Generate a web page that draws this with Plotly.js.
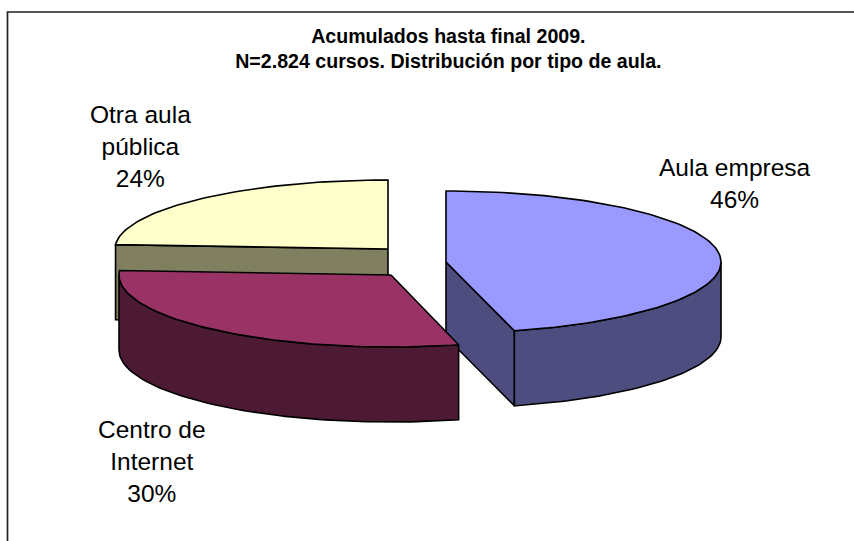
<!DOCTYPE html>
<html><head><meta charset="utf-8">
<script src="https://cdn.plot.ly/plotly-3.0.1.min.js"></script>
<style>html,body{margin:0;padding:0;background:#fff}#c{width:854px;height:541px}</style>
</head><body><div id="c"></div>
<script>
const categories = ["Aula empresa", "Centro de<br>Internet", "Otra aula<br>pública"];
const values = [46, 30, 24];
const topColors = ["#9999FF", "#993366", "#FFFFCC"];
const wallColors = ["#4D4D80", "#4D1A33", "#808060"];
const titleText = "<b>Acumulados hasta final 2009.</b><br><b>N=2.824 cursos. Distribución por tipo de aula.</b>";

const centers = [[446, 262], [391, 275], [388, 249]];
const radii = [[275, 71], [272, 72], [273, 69]];
const depth = 75;
const labelPos = [[735, 183.5], [152, 461], [140.5, 146]];

const total = values.reduce((a, b) => a + b, 0);
const starts = []; let acc = 0;
values.forEach(v => { starts.push(acc / total * 360); acc += v; });
const rad = d => d * Math.PI / 180;
const pt = (i, t, dz) => [centers[i][0] + radii[i][0] * Math.sin(rad(t)), centers[i][1] - radii[i][1] * Math.cos(rad(t)) + (dz || 0)];
function arc(i, a, b, dz) {
  const out = [], n = Math.max(2, Math.ceil(Math.abs(b - a) / 1.5));
  for (let k = 0; k <= n; k++) out.push(pt(i, a + (b - a) * k / n, dz));
  return out;
}
function poly(points, fill) {
  const c = points.concat([points[0]]);
  return { type: "scatter", mode: "lines", x: c.map(p => p[0]), y: c.map(p => p[1]), fill: "toself",
    fillcolor: fill, line: { color: "#000", width: 1.6 }, hoverinfo: "skip", showlegend: false };
}
const end = i => starts[i] + values[i] / total * 360;
const traces = [];
// Otra aula pública (back-left)
{
  const i = 2, a = starts[i], b = end(i), C = centers[i];
  traces.push(poly([C, pt(i, a), pt(i, a, depth), [C[0], C[1] + depth]], wallColors[i]));
  traces.push(poly([[C[0], C[1]], ...arc(i, a, b)], topColors[i]));
}
// Aula empresa (right)
{
  const i = 0, a = starts[i], b = end(i), C = centers[i];
  traces.push(poly([C, pt(i, b), pt(i, b, depth), [C[0], C[1] + depth]], wallColors[i]));
  traces.push(poly([...arc(i, 90, b), ...arc(i, b, 90, depth)], wallColors[i]));
  traces.push(poly([C, ...arc(i, a, b)], topColors[i]));
}
// Centro de Internet (front)
{
  const i = 1, a = starts[i], b = end(i), C = centers[i];
  traces.push(poly([...arc(i, a, 270), ...arc(i, 270, a, depth)], wallColors[i]));
  traces.push(poly([C, ...arc(i, a, b)], topColors[i]));
}
const labels = categories.map((c, i) => ({
  x: labelPos[i][0], y: labelPos[i][1], xref: "x", yref: "y", showarrow: false,
  text: c + "<br>" + values[i] + "%", align: "center",
  font: { family: "Liberation Sans, Arial, sans-serif", size: 24.5, color: "#000" }
}));
const layout = {
  width: 854, height: 541, margin: { l: 0, r: 0, t: 0, b: 0 },
  paper_bgcolor: "#fff", plot_bgcolor: "#fff", showlegend: false, hovermode: false,
  title: { text: titleText, x: 0.525, xanchor: "center", y: 0.921, yanchor: "middle",
    font: { family: "Liberation Sans, Arial, sans-serif", size: 19.6, color: "#000" } },
  xaxis: { range: [0, 854], visible: false, fixedrange: true },
  yaxis: { range: [541, 0], visible: false, fixedrange: true },
  annotations: labels,
  shapes: [{ type: "rect", xref: "x", yref: "y", x0: 7.5, y0: 12, x1: 880, y1: 570, line: { color: "#222", width: 1.7 }, layer: "below" }]
};
Plotly.newPlot("c", traces, layout, { displayModeBar: false, staticPlot: true });
</script></body></html>
